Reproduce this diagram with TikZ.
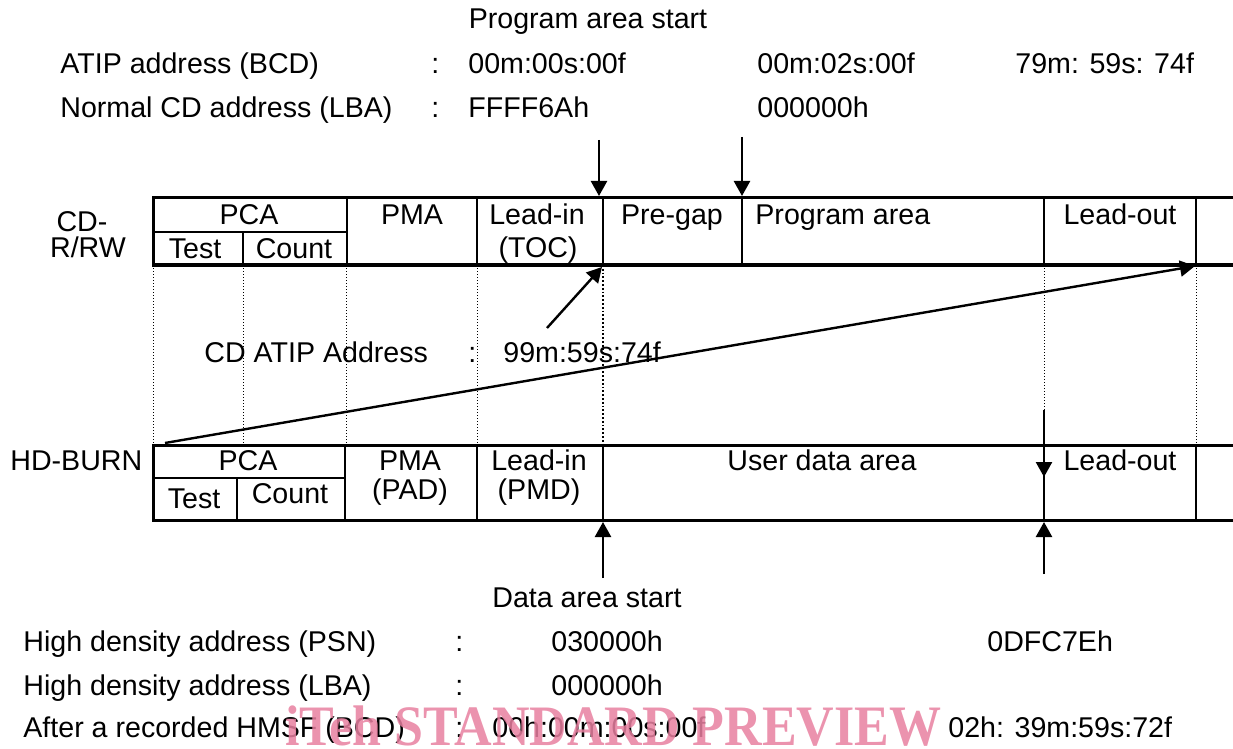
\documentclass[tikz,border=0pt]{standalone}
\usepackage{fontspec}
\setmainfont{Liberation Sans}
\newfontfamily\wmfont{Liberation Serif}
\usetikzlibrary{arrows.meta,calc}
\definecolor{wmpink}{RGB}{232,128,160}

\begin{document}
\begin{tikzpicture}[x=0.5pt,y=-0.5pt,>={Triangle[length=7.5pt,width=8pt]}]
	\tikzstyle{txt}=[inner sep=0pt,font=\fontsize{14.3}{17}\selectfont]
	\tikzstyle{lft}=[txt,anchor=base west]
	\tikzstyle{mid}=[txt,anchor=base]
	\tikzstyle{frame}=[line width=1.5pt]
	\tikzstyle{divider}=[line width=1pt]
	\tikzstyle{guide}=[densely dotted,line width=0.5pt]
	\tikzstyle{pointer}=[line width=1.2pt,->]

	\useasboundingbox (0,0) rectangle (1233,749);

	% address lines above the CD layout
	\node (pastart) [mid] at (588,29) {Program area start};
	\node (atip) [lft] at (60,74) {ATIP address (BCD)};
	\node (atipsep) [lft] at (431,74) {:};
	\node (atipa) [lft] at (468,74) {00m:00s:00f};
	\node (atipb) [lft] at (757,74) {00m:02s:00f};
	\node (atipc) [lft] at (1015,74) {79m: 59s: 74f};
	\node (lba) [lft] at (60,118) {Normal CD address (LBA)};
	\node (lbasep) [lft] at (431,118) {:};
	\node (lbaa) [lft] at (468,118) {FFFF6Ah};
	\node (lbab) [lft] at (757,118) {000000h};

	% CD-R/RW layout
	\node (cdname) [mid] at (82,232) {CD-};
	\node (cdname2) [mid] at (88,257) {R/RW};
	\coordinate (cdNE) at (1233,198);
	\coordinate (cdNW) at (153,198);
	\coordinate (cdSW) at (153,265);
	\coordinate (cdSE) at (1233,265);
	\draw [frame] (cdNE) -- (cdNW) -- (cdSW) -- (cdSE);
	\foreach \x in {347,477,603,742,1044,1196}
		\draw [divider] (\x,198) -- (\x,265);
	\draw [divider] (153,232) -- (347,232);
	\draw [divider] (243,232) -- (243,265);

	\node (cdpca) [mid] at (249,225) {PCA};
	\node (cdtest) [mid] at (195,258) {Test};
	\node (cdcount) [mid] at (294,258) {Count};
	\node (cdpma) [mid] at (412,225) {PMA};
	\node (cdlead) [mid] at (537,225) {Lead-in};
	\node (cdtoc) [mid] at (538,257) {(TOC)};
	\node (cdgap) [mid] at (672,225) {Pre-gap};
	\node (cdprog) [lft] at (755,225) {Program area};
	\node (cdout) [mid] at (1120,225) {Lead-out};

	% HD-BURN layout
	\node (hdname) [lft] at (10,470) {HD-BURN};
	\coordinate (hdNE) at (1233,445);
	\coordinate (hdNW) at (153,445);
	\coordinate (hdSW) at (153,520);
	\coordinate (hdSE) at (1233,520);
	\draw [frame] (hdNE) -- (hdNW) -- (hdSW) -- (hdSE);
	\foreach \x in {345,477,603,1196}
		\draw [divider] (\x,445) -- (\x,520);
	\draw [divider] (153,478) -- (345,478);
	\draw [divider] (237,478) -- (237,520);

	\node (hdpca) [mid] at (248,470) {PCA};
	\node (hdtest) [mid] at (194,508) {Test};
	\node (hdcount) [mid] at (290,503) {Count};
	\node (hdpma) [mid] at (410,470) {PMA};
	\node (hdpad) [mid] at (410,499) {(PAD)};
	\node (hdlead) [mid] at (539,470) {Lead-in};
	\node (hdpmd) [mid] at (539,499) {(PMD)};
	\node (hduser) [mid] at (822,470) {User data area};
	\node (hdout) [mid] at (1120,470) {Lead-out};

	% dotted guides between the two layouts
	\foreach \x in {153,243,346,477,1196}
		\draw [guide] (\x,265) -- (\x,445);
	\draw [guide,line width=0.9pt] (603,265) -- (603,445);
	\draw [guide] (1044,265) -- (1044,410);

	\node (atipaddr) [lft] at (204,362) {CD ATIP Address};
	\node (atipaddrsep) [lft] at (468,362) {:};
	\node (atipaddrv) [lft] at (503,362) {99m:59s:74f};

	% markers
	\coordinate (pgA) at (599,140);
	\coordinate (pgB) at (599,196);
	\coordinate (prA) at (742,137);
	\coordinate (prB) at (742,196);
	\draw [pointer] (pgA) -- (pgB);
	\draw [pointer] (prA) -- (prB);

	\coordinate (tocA) at (547,328);
	\coordinate (tocB) at (602,267);
	\draw [pointer] (tocA) -- (tocB);

	\coordinate (mapA) at (165,443);
	\coordinate (mapB) at (1195,266);
	\draw [pointer] (mapA) -- (mapB);

	\coordinate (endA) at (1044,410);
	\coordinate (endB) at (1044,477);
	\coordinate (endC) at (1044,520);
	\draw [divider] (endA) -- (endC);
	\draw [pointer] (endA) -- (endB);

	\coordinate (dsA) at (603,578);
	\coordinate (dsB) at (603,522);
	\coordinate (deA) at (1044,574);
	\coordinate (deB) at (1044,522);
	\draw [pointer] (dsA) -- (dsB);
	\draw [pointer] (deA) -- (deB);

	% address lines below the HD layout
	\node (dastart) [mid] at (587,607) {Data area start};
	\node (psn) [lft] at (23,651) {High density address (PSN)};
	\node (psnsep) [lft] at (455,651) {:};
	\node (psna) [lft] at (551,651) {030000h};
	\node (psnb) [lft] at (987,651) {0DFC7Eh};
	\node (hlba) [lft] at (23,695) {High density address (LBA)};
	\node (hlbasep) [lft] at (455,695) {:};
	\node (hlbaa) [lft] at (551,695) {000000h};
	\node (hmsf) [lft] at (23,737) {After a recorded HMSF (BCD)};
	\node (hmsfsep) [lft] at (455,737) {:};
	\node (hmsfa) [lft] at (492,737) {00h:00m:00s:00f};
	\node (hmsfb) [lft] at (948,737) {02h: 39m:59s:72f};

	\node (wm) [anchor=base west,inner sep=0pt,text=wmpink,text opacity=0.85,
		font=\wmfont\bfseries\fontsize{26}{26}\selectfont] at (285,745)
		{\scalebox{1}[1.1]{iTeh STANDARD PREVIEW}};
\end{tikzpicture}
\end{document}
